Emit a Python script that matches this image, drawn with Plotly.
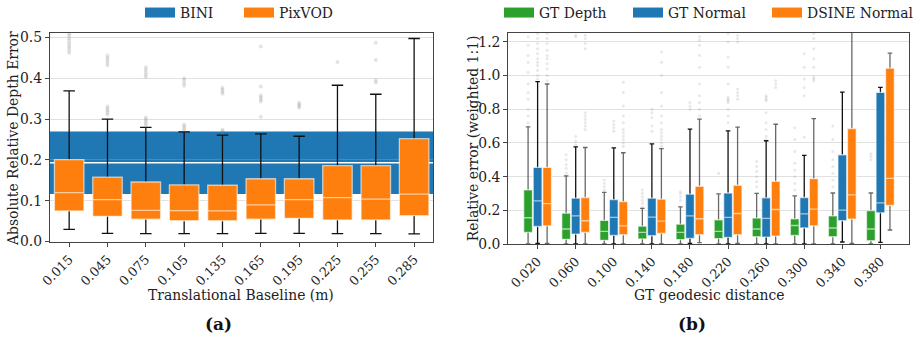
import plotly.graph_objects as go

# ---------------- panel (a) data ----------------
baselines = ["0.015", "0.045", "0.075", "0.105", "0.135", "0.165", "0.195", "0.225", "0.255", "0.285"]
pix_q1 = [0.075, 0.062, 0.055, 0.051, 0.051, 0.055, 0.057, 0.053, 0.053, 0.0635]
pix_med = [0.120, 0.103, 0.0765, 0.076, 0.075, 0.090, 0.103, 0.1075, 0.104, 0.1165]
pix_q3 = [0.201, 0.158, 0.146, 0.139, 0.138, 0.154, 0.154, 0.186, 0.186, 0.252]
pix_lo = [0.030, 0.020, 0.0195, 0.0195, 0.0195, 0.020, 0.020, 0.0195, 0.0195, 0.019]
pix_hi = [0.369, 0.300, 0.280, 0.269, 0.261, 0.264, 0.258, 0.383, 0.361, 0.4975]
pix_out = [
    [0.462, 0.468, 0.474, 0.480, 0.486, 0.492, 0.498, 0.505, 0.510],
    [0.311, 0.316, 0.321, 0.326, 0.331, 0.432, 0.438, 0.444, 0.450, 0.456],
    [0.284, 0.289, 0.294, 0.299, 0.304, 0.403, 0.409, 0.415, 0.421, 0.427],
    [0.272, 0.277, 0.282, 0.287, 0.382, 0.388, 0.394, 0.400],
    [0.266, 0.270, 0.274, 0.362, 0.367, 0.372, 0.377],
    [0.306, 0.343, 0.348, 0.353, 0.358, 0.380, 0.478],
    [0.328, 0.332, 0.336, 0.340],
    [0.440],
    [0.390, 0.395, 0.445, 0.487],
    [],
]
bini_q1 = 0.1165
bini_med = 0.193
bini_q3 = 0.2695

# ---------------- panel (b) data ----------------
distances = ["0.020", "0.060", "0.100", "0.140", "0.180", "0.220", "0.260", "0.300", "0.340", "0.380"]
gtd_q1 = [0.069, 0.028, 0.022, 0.030, 0.026, 0.032, 0.043, 0.051, 0.043, 0.020]
gtd_med = [0.156, 0.089, 0.075, 0.069, 0.069, 0.075, 0.089, 0.110, 0.095, 0.089]
gtd_q3 = [0.321, 0.183, 0.140, 0.106, 0.118, 0.144, 0.154, 0.150, 0.167, 0.199]
gtd_lo = [0.0, 0.0, 0.0, 0.0, 0.0, 0.0, 0.0, 0.0, 0.0, 0.0]
gtd_hi = [0.696, 0.404, 0.307, 0.211, 0.221, 0.298, 0.301, 0.286, 0.303, 0.303]
gtd_out = [
    [0.72, 0.76, 0.80, 0.86, 0.90, 0.95, 1.02, 1.08, 1.12, 1.18, 1.23],
    [0.42, 0.45, 0.47, 0.50, 0.53],
    [0.32, 0.34, 0.36, 0.38],
    [0.22, 0.24, 0.26, 0.28, 0.30, 0.32],
    [0.26, 0.28, 0.30, 0.31],
    [0.42],
    [0.34, 0.37, 0.40, 0.43, 0.46, 0.49],
    [0.32, 0.36, 0.40, 0.44, 0.48, 0.55, 0.62, 0.69],
    [0.34, 0.38, 0.42, 0.46, 0.50, 0.55, 0.62, 0.70],
    [0.50, 0.52, 0.536],
]

gtn_q1 = [0.104, 0.059, 0.051, 0.049, 0.033, 0.039, 0.041, 0.095, 0.138, 0.185]
gtn_med = [0.256, 0.167, 0.158, 0.160, 0.167, 0.158, 0.152, 0.179, 0.201, 0.244]
gtn_q3 = [0.455, 0.272, 0.264, 0.272, 0.296, 0.303, 0.274, 0.276, 0.530, 0.900]
gtn_lo = [0.004, 0.0, 0.0, 0.0, 0.004, 0.0, 0.0, 0.0, 0.012, 0.010]
gtn_hi = [0.964, 0.577, 0.571, 0.595, 0.682, 0.672, 0.613, 0.526, 0.902, 0.930]
gtn_out = [
    [0.98, 1.00, 1.03, 1.06, 1.08, 1.10, 1.13, 1.16, 1.19, 1.22, 1.25],
    [0.59, 0.61, 0.64, 1.23, 1.24],
    [0.67, 0.69, 0.71, 0.73],
    [0.67, 0.70, 0.75, 0.78, 0.80],
    [0.80, 0.82, 0.84],
    [0.72, 0.76, 0.80, 0.84, 0.85, 0.86, 0.87, 0.95, 1.05, 1.11, 1.20, 1.25],
    [0.62, 0.64, 0.68, 0.72, 0.78, 0.85, 0.86, 0.87, 0.88],
    [0.634, 0.88, 0.93, 0.98, 1.05, 1.13],
    [],
    [],
]

dsn_q1 = [0.108, 0.069, 0.055, 0.063, 0.055, 0.055, 0.047, 0.108, 0.148, 0.229]
dsn_med = [0.240, 0.138, 0.108, 0.136, 0.150, 0.181, 0.205, 0.207, 0.292, 0.390]
dsn_q3 = [0.455, 0.276, 0.252, 0.266, 0.343, 0.349, 0.372, 0.388, 0.686, 1.044]
dsn_lo = [0.004, 0.0, 0.0, 0.0, 0.008, 0.004, 0.0, 0.0, 0.004, 0.083]
dsn_hi = [0.950, 0.573, 0.542, 0.566, 0.741, 0.694, 0.711, 0.745, 1.600, 1.133]
dsn_out = [
    [0.97, 1.00, 1.04, 1.07, 1.10, 1.12, 1.15, 1.19, 1.22, 1.25],
    [0.68, 0.70, 0.72, 0.74, 0.76, 0.78, 1.16, 1.19, 1.22, 1.24],
    [0.58, 0.60, 0.62, 0.64, 0.66, 0.68, 0.72, 0.76, 0.82, 0.90, 0.96],
    [0.58, 0.60, 0.62, 0.64, 0.66, 0.68, 0.72, 0.76, 0.82, 0.90, 1.00, 1.08, 1.14],
    [0.76, 0.80, 0.84, 0.88, 0.95, 1.05, 1.12, 1.18, 1.21, 1.23],
    [0.86, 0.88, 0.90, 0.92, 1.20, 1.22, 1.24],
    [0.93, 0.95, 0.97],
    [0.97, 0.98, 0.99, 1.05, 1.10, 1.16, 1.22, 1.25],
    [],
    [],
]

BLUE = "#1f77b4"
ORANGE = "#ff7f0e"
GREEN = "#2ca02c"
EDGE = "rgba(255,255,255,0.6)"
FONT = "DejaVu Serif"
FS = 13.9
XFS = 12.8

fig = go.Figure()


def add_boxes(xpos, q1, med, q3, lo, hi, color, whisk_color, box_w, cap_w, xa, ya):
    # whiskers + caps (collapsed box, hidden under the filled box)
    fig.add_trace(go.Box(
        x=xpos, q1=med, median=med, q3=med, lowerfence=lo, upperfence=hi,
        width=cap_w, whiskerwidth=1.0, fillcolor="rgba(0,0,0,0)",
        line=dict(color=whisk_color, width=1.3), boxpoints=False,
        showlegend=False, hoverinfo="skip", xaxis=xa, yaxis=ya))
    # filled box + median
    fig.add_trace(go.Box(
        x=xpos, q1=q1, median=med, q3=q3, lowerfence=q1, upperfence=q3,
        width=box_w, whiskerwidth=0, fillcolor=color,
        line=dict(color=EDGE, width=1.3), boxpoints=False,
        showlegend=False, xaxis=xa, yaxis=ya))


def add_outliers(xpos, outs, color, size, xa, ya):
    xs, ys = [], []
    for p, vals in zip(xpos, outs):
        for v in vals:
            xs.append(p)
            ys.append(v)
    fig.add_trace(go.Scatter(
        x=xs, y=ys, mode="markers", marker=dict(color=color, size=size, line=dict(width=0)),
        showlegend=False, hoverinfo="skip", xaxis=xa, yaxis=ya))


# ---- panel (a)
pos_a = list(range(len(baselines)))
add_outliers(pos_a, pix_out, "rgba(120,120,120,0.2)", 4, "x", "y")
add_boxes(pos_a, pix_q1, pix_med, pix_q3, pix_lo, pix_hi, ORANGE, "#111111", 0.77, 0.30, "x", "y")

# ---- panel (b)
pos_b = list(range(len(distances)))
off = 0.25
bw = 0.23
cw = 0.12
pos_g = [p - off for p in pos_b]
pos_n = [p for p in pos_b]
pos_d = [p + off for p in pos_b]
add_outliers(pos_g, gtd_out, "rgba(110,110,110,0.16)", 3, "x2", "y2")
add_outliers(pos_n, gtn_out, "rgba(110,110,110,0.16)", 3, "x2", "y2")
add_outliers(pos_d, dsn_out, "rgba(110,110,110,0.16)", 3, "x2", "y2")
add_boxes(pos_g, gtd_q1, gtd_med, gtd_q3, gtd_lo, gtd_hi, GREEN, "rgba(40,40,40,0.7)", bw, cw, "x2", "y2")
add_boxes(pos_n, gtn_q1, gtn_med, gtn_q3, gtn_lo, gtn_hi, BLUE, "#111111", bw, cw, "x2", "y2")
add_boxes(pos_d, dsn_q1, dsn_med, dsn_q3, dsn_lo, dsn_hi, ORANGE, "rgba(40,40,40,0.7)", bw, cw, "x2", "y2")

# ---- legend entries (one legend per entry, placed like the reference)
legend_items = [("BINI", BLUE, "legend", 146, "x", "y"),
                ("PixVOD", ORANGE, "legend2", 245, "x", "y"),
                ("GT Depth", GREEN, "legend3", 505, "x2", "y2"),
                ("GT Normal", BLUE, "legend4", 634, "x2", "y2"),
                ("DSINE Normal", ORANGE, "legend5", 773, "x2", "y2")]
legend_layout = {}
for name, col, lg, patch_x, xa, ya in legend_items:
    fig.add_trace(go.Scatter(x=[None], y=[None], mode="lines", name=name,
                             line=dict(color=col, width=10), legend=lg, xaxis=xa, yaxis=ya))
    legend_layout[lg] = dict(orientation="h", x=(patch_x - 6 - 50) / 859, xanchor="left",
                             y=1.1706, yanchor="top", font=dict(family=FONT, size=FS),
                             bgcolor="rgba(0,0,0,0)")

# ---- BINI band
fig.add_shape(type="rect", xref="x domain", yref="y", x0=0, x1=1, y0=bini_q1, y1=bini_q3,
              fillcolor=BLUE, line=dict(width=0), layer="below")
fig.add_shape(type="line", xref="x domain", yref="y", x0=0, x1=1, y0=bini_med, y1=bini_med,
              line=dict(color="white", width=1.5), layer="below")

axis_common = dict(showline=True, mirror=True, linecolor="#444", linewidth=1.2,
                   zeroline=False, ticks="outside", ticklen=4, tickcolor="#444")
yfont = dict(family=FONT, size=FS, color="#222")
xfont = dict(family=FONT, size=XFS, color="#222")
grid = "rgba(170,170,170,0.35)"


def ann(text, x_px, y_px, size=FS, angle=0, color="#222"):
    return dict(text=text, xref="paper", yref="paper",
                x=(x_px - 50) / 859, y=(244 - y_px) / 211,
                xanchor="center", yanchor="middle", showarrow=False, textangle=angle,
                font=dict(family=FONT, size=size, color=color))


fig.update_layout(
    width=921, height=341,
    margin=dict(l=50, r=12, t=33, b=97, autoexpand=False),
    plot_bgcolor="white", paper_bgcolor="white",
    boxmode="overlay",
    font=dict(family=FONT, size=FS, color="#222"),
    xaxis=dict(domain=[0, 0.4462], range=[-0.5, 9.5], tickvals=pos_a, ticktext=baselines,
               tickangle=-45, showgrid=False, anchor="y", automargin=False, tickfont=xfont,
               **axis_common),
    yaxis=dict(domain=[0.0095, 1], range=[-0.001, 0.511], dtick=0.1, tick0=0, tickformat=".1f",
               showgrid=True, gridcolor=grid, gridwidth=1, anchor="x", automargin=False,
               tickfont=yfont, **axis_common),
    xaxis2=dict(domain=[0.5335, 1.0], range=[-0.77, 9.75], tickvals=pos_b, ticktext=distances,
                tickangle=-45, showgrid=False, anchor="y2", automargin=False, tickfont=xfont,
                **axis_common),
    yaxis2=dict(domain=[0, 1], range=[0, 1.253], dtick=0.2, tick0=0, tickformat=".1f",
                showgrid=True, gridcolor=grid, gridwidth=1, anchor="x2", automargin=False,
                tickfont=yfont, **axis_common),
    annotations=[
        ann("Absolute Relative Depth Error", 12.5, 138.5, angle=-90),
        ann("Relative error (weighted 1:1)", 472.7, 138.5, angle=-90),
        ann("Translational Baseline (m)", 241, 295),
        ann("GT geodesic distance", 709, 295),
        ann("<b>(a)</b>", 218, 324, size=17, color="#111"),
        ann("<b>(b)</b>", 692, 324, size=17, color="#111"),
    ],
    **legend_layout,
)

fig.write_html("out.html", config={"displayModeBar": False},
               post_script="document.body.style.margin='0px';")
